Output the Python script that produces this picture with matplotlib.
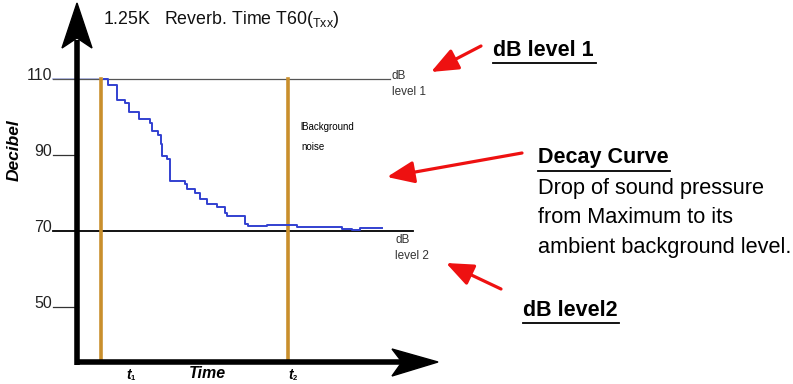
import matplotlib.pyplot as plt
from matplotlib.patches import Polygon

plt.rcParams['font.family'] = ['Liberation Sans', 'DejaVu Sans']
plt.rcParams['mathtext.fontset'] = 'custom'
plt.rcParams['mathtext.rm'] = 'Liberation Sans'

# ── data ──
yticks = [110, 90, 70, 50]
level1_db = 110
level2_db = 70
t1, t2 = 101, 288          # marker times (pixel-like time units)
decay_t = [104, 108, 117, 125, 129, 139, 150, 152, 158, 161, 162, 167, 170, 185,
           187, 195, 200, 207, 217, 225, 227, 245, 248, 267, 297, 342, 352, 360, 382]
decay_db = [110, 108.4, 104.5, 103.7, 101.3, 99.5, 98.4, 96.3, 95.3, 92.9, 89.7,
            88.9, 83.2, 82.4, 81.1, 80.0, 78.4, 77.1, 76.3, 74.7, 73.9, 71.8, 71.3,
            71.6, 71.1, 70.5, 70.3, 70.8, 70.8]

# pixel (top-left origin) -> data
def P(x, y):
    return (x, 110 - (y - 79) / 3.8)

fig = plt.figure(figsize=(7.93, 3.84), dpi=100)
ax = fig.add_axes([0, 0, 1, 1])
ax.set_xlim(0, 793)
ax.set_ylim(P(0, 384)[1], P(0, 0)[1])
ax.axis('off')

# reference levels and ticks
ax.plot([53, 101], [level1_db] * 2, color='#aab4e8', lw=1.2, zorder=1)
ax.plot([53, 390], [level1_db] * 2, color='#555555', lw=0.9, zorder=2)
ax.plot([53, 413], [level2_db] * 2, color='black', lw=1.3, zorder=2)
for v in [90, 50]:
    ax.plot([53, 78], [v, v], color='#333333', lw=0.9)
for v in yticks:
    ax.text(52, v + 0.9, str(v), ha='right', va='center', fontsize=11.5, color='#222222')

# marker lines
for t in [t1, t2]:
    ax.plot([t, t], [level1_db, P(0, 362)[1]], color='#c98f2c', lw=2.6, zorder=3)

# decay curve
ax.plot(decay_t, decay_db, drawstyle='steps-post', color='#3240d0', lw=1.4, zorder=4)

# axes with stealth arrow heads
ax.plot(*zip(P(77, 365), P(77, 40)), color='black', lw=4, solid_capstyle='butt', zorder=5)
ax.plot(*zip(P(75, 362), P(404, 362)), color='black', lw=4, solid_capstyle='butt', zorder=5)
ax.add_patch(Polygon([P(77, 3), P(92, 48), P(77, 38), P(62, 48)], closed=True,
                     color='black', zorder=5))
ax.add_patch(Polygon([P(438, 362), P(392, 349), P(402, 362), P(392, 376)], closed=True,
                     color='black', zorder=5))

# inner labels
ax.text(103, P(0, 19)[1], r'1.25K   Reverb. Time T60$(_{\rm Txx})$', fontsize=12.8,
        va='center', ha='left', color='#111111')
ax.text(*P(14, 150), 'Decibel', rotation=90, fontsize=12.5, fontweight='bold',
        style='italic', ha='center', va='center')
ax.text(*P(392, 84), 'dB\nlevel 1', fontsize=8.5, color='#333333', va='center',
        linespacing=1.35)
ax.text(*P(395, 248), 'dB\nlevel 2', fontsize=8.5, color='#333333', va='center',
        linespacing=1.35)
ax.text(*P(300, 127), 'lBackground', fontsize=7, va='center')
ax.text(*P(301, 147), 'noise', fontsize=7, va='center')
ax.text(*P(126, 375), 't', fontsize=10, fontweight='bold', style='italic', va='center')
ax.text(*P(131, 378), '1', fontsize=5.5, fontweight='bold', va='center')
ax.text(*P(207, 374), 'Time', fontsize=11.5, fontweight='bold', style='italic',
        ha='center', va='center')
ax.text(*P(288, 375), 't', fontsize=10, fontweight='bold', style='italic', va='center')
ax.text(*P(293, 378), '2', fontsize=5.5, fontweight='bold', va='center')

# callouts
big = dict(fontsize=15.5, fontweight='bold', va='center', ha='left')
def under(x0, x1, y):
    ax.plot([x0, x1], [P(0, y)[1]] * 2, color='black', lw=1.3)

ax.text(*P(493, 50), 'dB level 1', **big)
under(493, 596, 63)
ax.text(*P(538, 158), 'Decay Curve', **big)
under(538, 670, 171)
body = dict(fontsize=15.7, va='center')
ax.text(*P(538, 189), 'Drop of sound pressure', **body)
ax.text(*P(538, 218), 'from Maximum to its', **body)
ax.text(*P(538, 248), 'ambient background level.', **body)
ax.text(*P(523, 311), 'dB level2', **big)
under(523, 619, 323)

red = dict(arrowstyle='-|>,head_length=1.1,head_width=0.45', lw=2.3, color='#ee1111',
           shrinkA=0, shrinkB=0, mutation_scale=15)
ax.annotate('', xy=P(431, 72), xytext=P(481, 46), arrowprops=red)
ax.annotate('', xy=P(387, 177), xytext=P(522, 153), arrowprops=red)
ax.annotate('', xy=P(446, 263), xytext=P(501, 289), arrowprops=red)

fig.savefig('out.png', dpi=100)
